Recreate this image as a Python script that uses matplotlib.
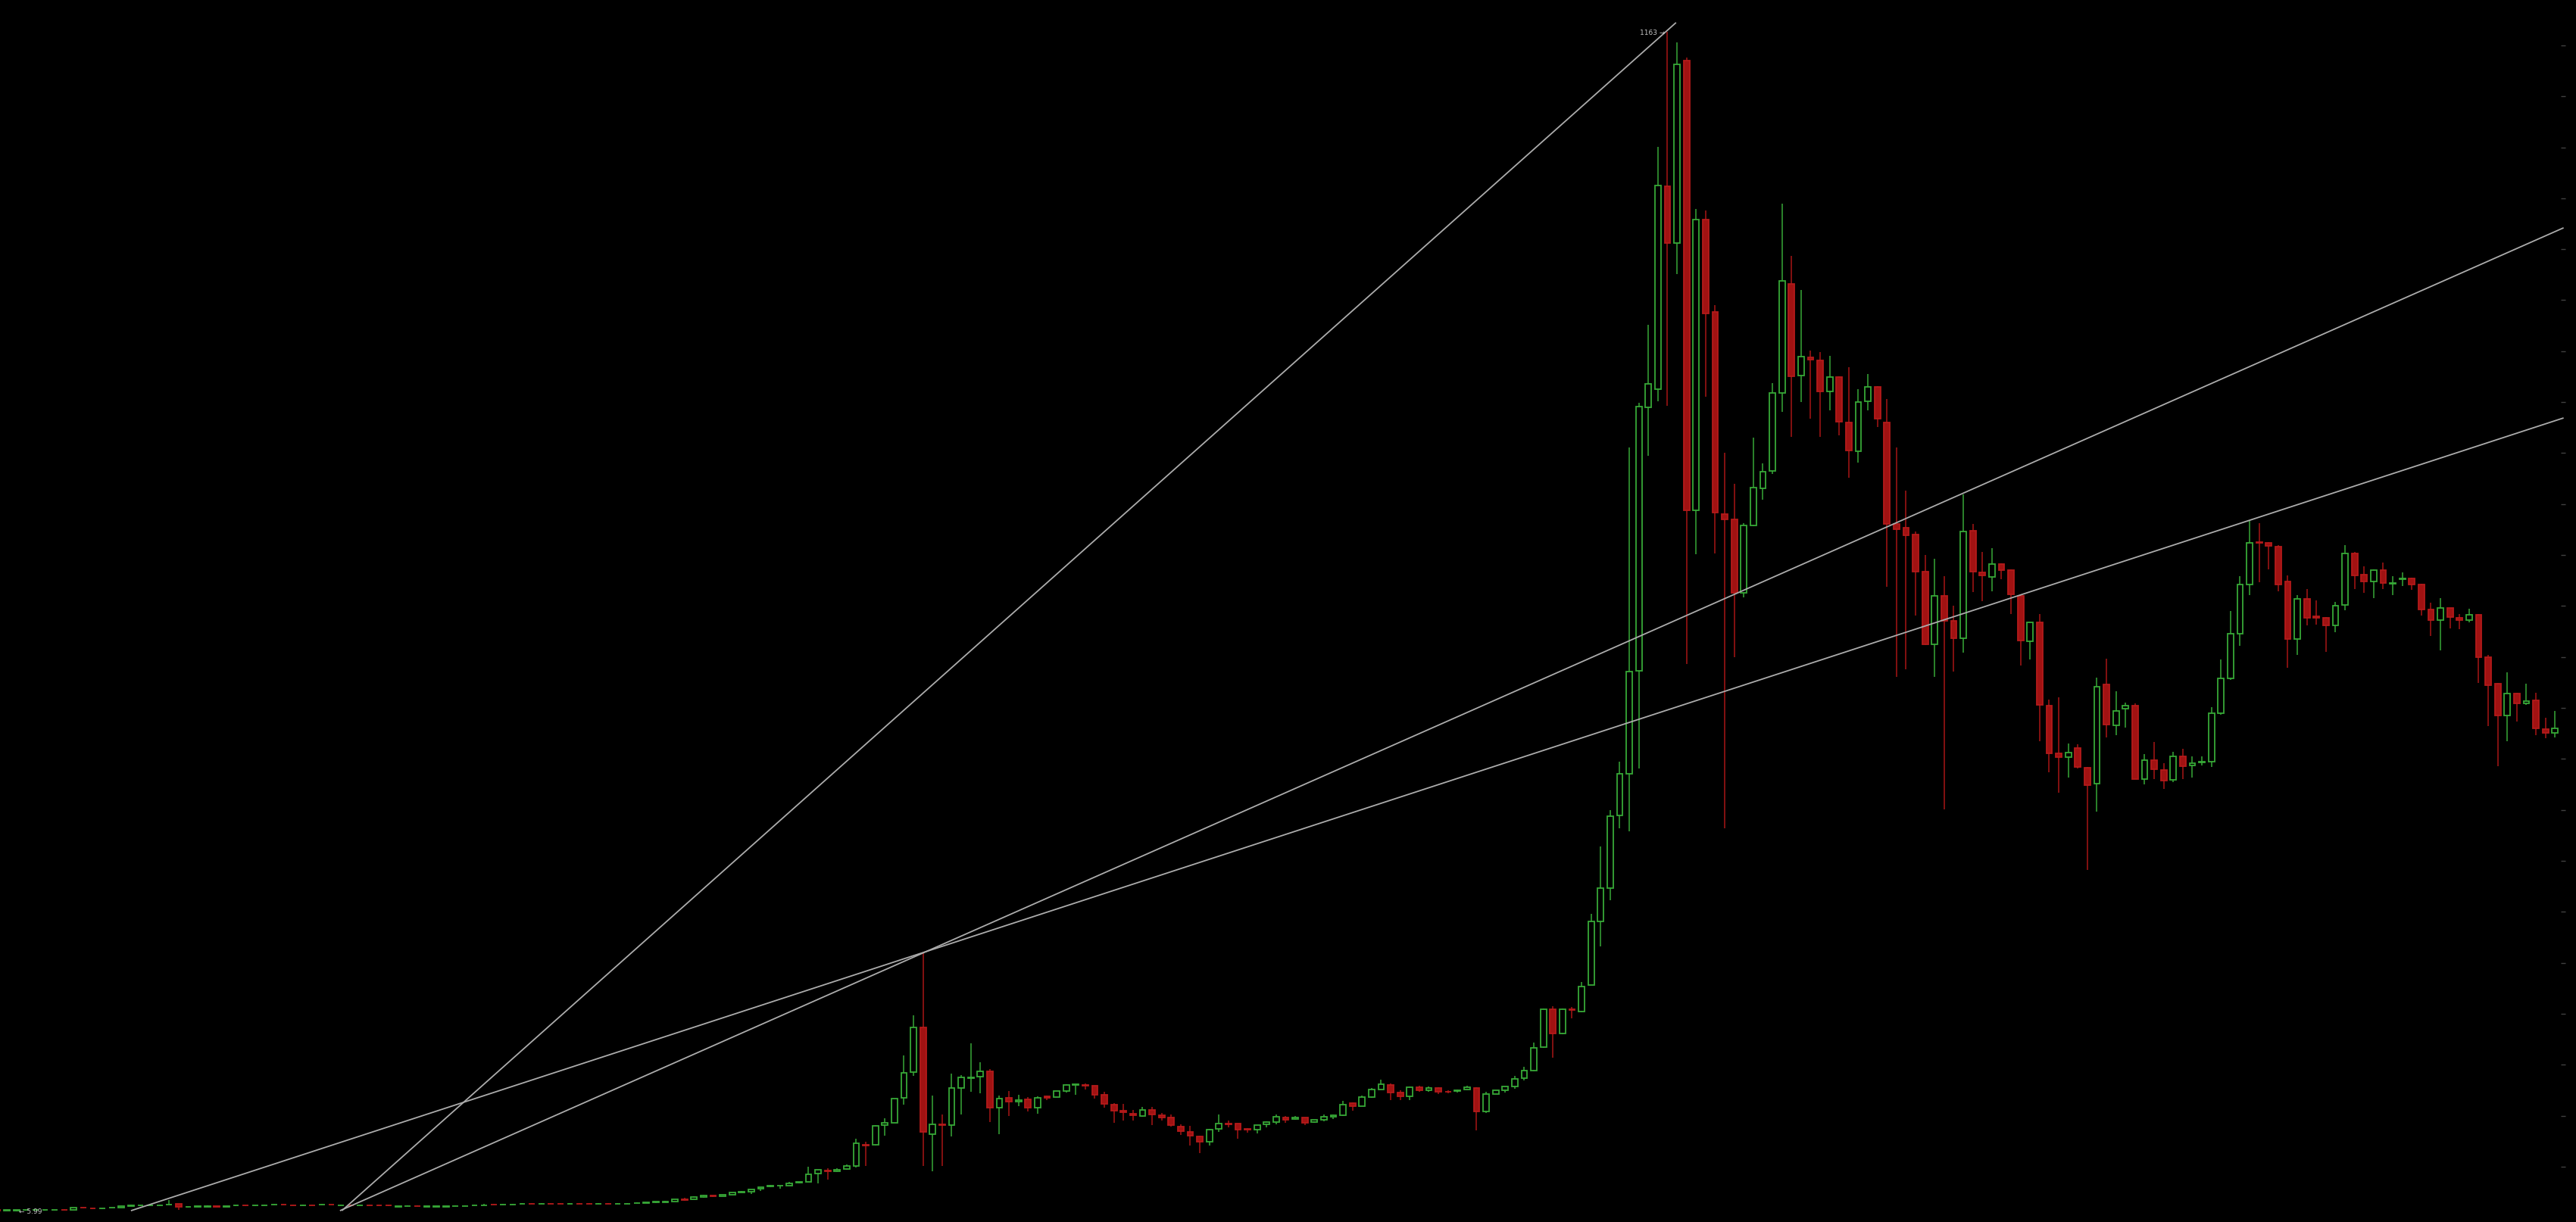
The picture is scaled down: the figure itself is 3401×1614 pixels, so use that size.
import numpy as np
import matplotlib
matplotlib.use("Agg")
import matplotlib.pyplot as plt

# ---- data (price, one candle per period; first candle partly off-screen) ----
opens = [
    7.6, 7.2, 7.3, 7.4, 7.5, 7.4, 7.5, 8.0, 7.9, 9.8,
    9.0, 8.8, 9.8, 10.1, 11.6, 11.8, 12.0, 12.3, 12.9, 13.4,
    10.3, 11.0, 11.0, 11.2, 11.0, 11.8, 12.0, 11.8, 12.3, 13.0,
    13.2, 12.5, 12.3, 12.5, 13.0, 13.0, 12.3, 12.5, 12.3, 12.5,
    12.5, 12.0, 11.0, 11.5, 11.7, 11.0, 11.0, 11.0, 11.5, 11.5,
    12.3, 12.3, 13.2, 13.0, 13.0, 13.7, 13.9, 13.7, 13.9, 13.9,
    13.7, 13.9, 13.9, 13.7, 13.9, 13.7, 13.7, 14.4, 14.5, 14.8,
    15.4, 16.1, 17.9, 18.0, 20.3, 21.5, 20.8, 22.7, 24.7, 25.7,
    28.2, 30.4, 31.2, 31.7, 34.2, 35.0, 43.1, 46.3, 45.3, 47.5,
    51.0, 71.8, 71.3, 90.6, 93.1, 117.3, 142.6, 186.4, 81.7, 91.8,
    91.1, 127.2, 136.9, 138.1, 143.6, 107.7, 117.3, 113.9, 115.9, 107.7,
    118.8, 118.6, 124.5, 130.2, 130.2, 129.2, 120.5, 110.7, 104.9, 102.0,
    99.5, 105.5, 100.7, 98.0, 89.1, 84.1, 79.9, 74.7, 86.9, 92.3,
    92.1, 86.8, 86.2, 91.4, 93.6, 98.0, 96.6, 98.0, 93.6, 96.3,
    99.2, 100.3, 112.1, 109.6, 118.5, 125.7, 130.0, 122.5, 119.1, 128.2,
    125.2, 127.5, 123.4, 124.0, 126.0, 127.5, 104.4, 121.5, 125.2, 128.5,
    136.7, 144.1, 167.1, 204.5, 180.8, 204.2, 202.2, 228.3, 291.0, 323.2,
    394.3, 435.6, 536.6, 795.1, 812.7, 1011.6, 955.8, 1134.9, 693.9, 979.1,
    888.2, 690.5, 685.1, 613.2, 679.4, 715.8, 732.4, 809.0, 915.8, 825.9,
    843.8, 841.1, 810.6, 824.9, 780.1, 752.0, 800.7, 815.0, 780.1, 680.8,
    676.8, 670.3, 633.7, 562.3, 610.1, 585.3, 568.2, 673.7, 632.9, 628.9,
    640.9, 634.9, 610.0, 565.3, 583.9, 502.6, 455.2, 451.9, 460.5, 441.6,
    425.7, 523.2, 483.0, 499.3, 502.6, 430.6, 448.9, 438.9, 429.7, 452.9,
    443.6, 446.9, 447.2, 495.0, 529.1, 573.2, 621.3, 662.4, 661.8, 658.4,
    624.0, 567.3, 606.7, 590.1, 588.5, 580.9, 600.8, 651.2, 630.9, 624.3,
    634.9, 622.0, 626.6, 626.9, 621.0, 596.4, 586.5, 597.8, 588.8, 586.5,
    591.1, 550.0, 524.2, 493.0, 514.5, 504.6, 507.6, 479.4, 475.4,
]
highs = [
    7.7, 7.6, 7.6, 7.7, 7.7, 7.7, 7.8, 8.2, 9.8, 10.1,
    9.1, 9.1, 10.1, 11.2, 12.8, 12.2, 13.0, 12.6, 17.3, 13.8,
    10.6, 11.3, 12.0, 11.3, 11.3, 12.1, 12.1, 12.1, 12.6, 13.3,
    13.3, 12.6, 13.1, 12.6, 13.8, 13.1, 12.6, 12.6, 12.6, 12.6,
    12.6, 12.3, 11.3, 11.8, 11.8, 11.3, 11.3, 11.3, 11.8, 12.4,
    12.6, 13.4, 13.3, 13.3, 13.3, 14.0, 14.0, 14.0, 14.4, 14.0,
    14.0, 14.0, 14.0, 14.0, 14.0, 14.0, 14.0, 14.8, 14.9, 16.0,
    16.6, 17.9, 19.5, 21.0, 22.3, 21.6, 22.6, 24.6, 26.5, 28.0,
    30.2, 32.2, 31.6, 35.4, 35.2, 50.0, 47.2, 48.5, 48.5, 52.0,
    77.5, 74.7, 90.6, 97.5, 117.0, 159.2, 198.5, 259.4, 119.6, 101.5,
    141.1, 139.8, 171.0, 152.5, 145.6, 119.6, 124.3, 120.3, 118.3, 119.1,
    119.6, 124.5, 130.7, 131.2, 131.4, 129.5, 123.3, 112.6, 111.6, 105.5,
    108.7, 108.4, 102.7, 101.0, 91.8, 89.9, 80.5, 87.3, 101.0, 95.1,
    92.5, 88.1, 91.0, 94.8, 101.5, 99.5, 99.5, 98.4, 96.2, 101.2,
    101.2, 114.8, 113.3, 119.6, 127.0, 135.4, 131.5, 125.0, 128.5, 129.5,
    128.7, 127.8, 125.0, 125.5, 129.5, 128.0, 123.3, 125.0, 128.8, 139.1,
    147.8, 171.7, 205.0, 207.7, 205.0, 206.8, 231.4, 297.9, 364.4, 399.6,
    447.1, 755.3, 799.7, 875.5, 1050.6, 1163.0, 1153.1, 1138.2, 989.6, 988.0,
    895.1, 750.0, 719.8, 681.4, 765.2, 739.9, 818.9, 994.6, 943.6, 910.1,
    850.4, 848.8, 845.1, 825.5, 834.5, 812.7, 827.9, 815.5, 803.0, 755.5,
    713.2, 672.9, 650.2, 646.4, 629.0, 600.4, 709.8, 680.3, 652.8, 657.1,
    641.9, 636.2, 611.4, 584.8, 592.1, 508.6, 510.2, 465.5, 464.5, 442.2,
    529.5, 548.4, 516.2, 505.3, 504.3, 454.5, 466.5, 445.6, 457.2, 459.8,
    452.9, 452.2, 500.9, 547.7, 595.4, 629.6, 683.3, 681.0, 662.4, 659.4,
    630.3, 610.4, 616.3, 605.4, 589.1, 604.1, 659.4, 652.8, 638.9, 636.2,
    642.9, 629.6, 632.9, 628.0, 621.6, 603.1, 607.4, 598.4, 592.5, 597.1,
    591.8, 551.7, 524.8, 534.8, 515.2, 523.5, 515.2, 490.3, 497.0,
]
lows = [
    7.2, 7.1, 5.99, 7.3, 7.4, 7.3, 7.4, 7.7, 7.8, 9.3,
    8.7, 8.7, 9.7, 9.6, 11.5, 11.7, 11.9, 12.2, 12.8, 7.9,
    10.2, 10.9, 10.9, 10.9, 10.4, 11.7, 11.7, 11.7, 12.2, 12.9,
    12.9, 12.2, 12.2, 12.2, 12.9, 12.7, 12.2, 12.2, 12.2, 12.2,
    12.2, 11.7, 10.4, 11.4, 11.4, 10.9, 10.9, 10.9, 11.4, 11.4,
    12.2, 12.2, 12.9, 12.9, 12.9, 13.6, 13.6, 13.6, 13.6, 13.6,
    13.6, 13.6, 13.6, 13.6, 13.6, 13.6, 13.6, 14.3, 14.4, 14.7,
    15.3, 16.0, 16.3, 17.9, 19.5, 20.6, 20.7, 22.6, 24.6, 23.5,
    26.2, 30.2, 28.4, 31.5, 34.0, 34.8, 33.4, 37.1, 45.0, 47.3,
    49.0, 51.0, 70.6, 80.7, 92.8, 110.9, 139.3, 51.0, 45.7, 51.0,
    79.7, 101.5, 123.8, 122.0, 93.6, 82.2, 99.7, 109.6, 104.5, 102.2,
    115.1, 118.3, 123.0, 120.8, 125.7, 117.1, 107.7, 93.1, 95.5, 95.5,
    99.0, 91.1, 95.3, 89.1, 81.2, 71.0, 63.6, 71.0, 84.1, 88.6,
    77.5, 83.4, 82.9, 88.4, 91.4, 93.3, 96.4, 91.1, 93.3, 94.8,
    97.0, 99.5, 105.2, 109.3, 117.6, 125.5, 115.6, 115.6, 115.6, 123.7,
    123.7, 121.5, 121.8, 122.5, 125.2, 85.6, 102.9, 121.1, 123.0, 126.7,
    134.9, 143.5, 166.5, 157.2, 180.3, 195.4, 201.8, 228.0, 265.8, 311.6,
    382.0, 379.0, 440.9, 747.7, 801.2, 796.7, 925.9, 543.0, 651.0, 805.0,
    651.6, 382.1, 550.1, 608.4, 678.5, 704.2, 729.7, 790.8, 765.6, 800.0,
    784.1, 765.6, 791.7, 767.6, 725.8, 740.7, 791.7, 775.8, 618.9, 530.2,
    537.8, 590.4, 561.5, 530.2, 400.8, 535.6, 554.1, 614.0, 604.7, 614.7,
    626.3, 591.8, 541.7, 547.7, 467.1, 436.6, 416.7, 431.6, 440.6, 341.0,
    398.1, 471.1, 473.7, 481.0, 430.0, 425.0, 430.6, 420.7, 427.3, 430.6,
    431.6, 443.9, 441.9, 493.6, 527.8, 560.6, 611.0, 623.0, 636.2, 614.7,
    539.1, 552.4, 580.9, 581.5, 555.0, 574.2, 595.8, 616.3, 613.0, 608.1,
    617.0, 610.7, 619.7, 615.7, 590.5, 570.9, 556.3, 578.2, 577.2, 584.2,
    524.5, 482.0, 442.9, 467.1, 487.0, 502.9, 473.7, 470.4, 471.4,
]
closes = [
    7.3, 7.5, 7.5, 7.6, 7.6, 7.6, 7.7, 7.8, 9.7, 9.6,
    8.8, 9.0, 10.0, 11.1, 11.9, 12.1, 12.2, 12.5, 13.2, 10.8,
    10.5, 11.2, 11.2, 11.0, 11.2, 12.0, 11.8, 12.0, 12.5, 13.2,
    13.0, 12.3, 12.5, 12.3, 13.2, 12.8, 12.5, 12.3, 12.5, 12.3,
    12.3, 11.8, 11.2, 11.7, 11.5, 11.2, 11.2, 11.2, 11.7, 11.7,
    12.5, 12.5, 13.0, 13.2, 13.2, 13.9, 13.7, 13.9, 13.7, 13.7,
    13.9, 13.7, 13.7, 13.9, 13.7, 13.9, 13.9, 14.7, 14.8, 15.8,
    15.7, 17.8, 17.6, 20.0, 21.5, 20.8, 22.5, 24.5, 25.7, 27.9,
    29.9, 31.2, 31.4, 33.9, 34.9, 42.6, 46.8, 45.5, 47.2, 50.7,
    73.0, 70.8, 90.1, 92.8, 116.6, 142.1, 186.4, 84.4, 91.6, 91.1,
    127.0, 137.6, 137.6, 143.3, 107.7, 116.6, 113.9, 115.3, 107.7, 117.3,
    117.3, 124.0, 130.0, 130.9, 129.5, 120.8, 111.4, 105.2, 103.2, 100.5,
    105.5, 101.0, 98.5, 91.1, 85.1, 80.2, 74.7, 86.6, 92.1, 91.9,
    86.6, 86.4, 90.6, 93.6, 98.8, 96.3, 98.0, 93.1, 95.8, 98.8,
    100.3, 110.7, 109.6, 118.1, 125.5, 130.7, 123.0, 119.1, 128.2, 125.2,
    127.5, 123.7, 123.2, 125.2, 127.7, 104.4, 121.5, 124.8, 128.5, 135.9,
    144.1, 166.3, 204.5, 180.8, 204.5, 203.6, 226.7, 291.0, 323.2, 393.6,
    435.6, 535.8, 795.9, 818.1, 1012.4, 955.8, 1131.7, 693.9, 979.1, 886.9,
    691.6, 685.1, 613.2, 678.8, 716.2, 731.7, 809.3, 919.0, 825.2, 844.4,
    841.8, 810.6, 824.9, 780.8, 752.3, 800.0, 815.0, 783.5, 680.8, 675.7,
    669.5, 633.9, 562.3, 610.1, 585.6, 568.2, 672.9, 633.6, 630.3, 640.9,
    635.6, 611.7, 565.9, 583.9, 502.9, 455.8, 451.5, 456.5, 442.2, 424.0,
    521.2, 483.7, 497.0, 502.6, 430.6, 448.9, 439.9, 429.0, 452.2, 443.2,
    446.2, 447.6, 494.6, 528.8, 572.6, 621.0, 661.8, 661.8, 658.8, 621.3,
    567.3, 607.1, 588.5, 588.5, 580.9, 600.4, 651.2, 630.3, 624.3, 634.9,
    622.3, 622.6, 627.3, 621.3, 596.4, 586.5, 597.8, 589.1, 586.5, 591.1,
    550.0, 522.2, 493.0, 514.5, 504.6, 506.6, 479.7, 475.4, 479.7,
]

# trend lines: (start index, start price, end index, end price)
trend_lines = [
    (35.1, 6.9, 174.9, 1172.3),
    (34.9, 6.9, 267.9, 971.0),
    (13.0, 6.9, 267.9, 784.5),
]
price_ticks = [50, 100, 150, 200, 250, 300, 350, 400, 450, 500, 550, 600,
               650, 700, 750, 800, 850, 900, 950, 1000, 1050, 1100, 1150]
high_label = (174, 1163.0, "1163 \u2192")
low_label = (1, 5.99, "\u2190 5.99")

# ---- drawing ----
o = np.array(opens); h = np.array(highs); l = np.array(lows); c = np.array(closes)
x = np.arange(len(o)) - 1
up = c >= o

GREEN = "#37a837"
RED_FILL = "#a11212"
RED_EDGE = "#b41a1a"
RED_WICK = "#a81616"

fig = plt.figure(figsize=(34.01, 16.15), dpi=100)
fig.patch.set_facecolor("black")
ax = fig.add_axes([0, 0, 1, 1])
ax.set_facecolor("black")

top = np.maximum(o, c)
bot = np.minimum(o, c)
wick_cols = np.where(up, GREEN, RED_WICK)
ax.vlines(x, top, h, colors=wick_cols, lw=1.1, zorder=2)
ax.vlines(x, l, bot, colors=wick_cols, lw=1.1, zorder=2)

face = np.where(up, "black", RED_FILL)
edge = np.where(up, GREEN, RED_EDGE)
ax.bar(x, top - bot, bottom=bot, width=0.62, color=list(face),
       edgecolor=list(edge), linewidth=1.3, zorder=3)

for x0, p0, x1, p1 in trend_lines:
    ax.plot([x0, x1], [p0, p1], color="#acacac", lw=1.3, zorder=4,
            solid_capstyle="butt")

ax.hlines(price_ticks, 0.9941, 0.9960, transform=ax.get_yaxis_transform(),
          colors="#404040", lw=1.0)

ax.annotate(high_label[2], xy=(high_label[0], high_label[1]), xytext=(-3, 0),
            textcoords="offset pixels", ha="right", va="center",
            fontsize=6.5, color="#c4c4c4", zorder=5)
ax.annotate(low_label[2], xy=(low_label[0], low_label[1]), xytext=(3, 1),
            textcoords="offset pixels", ha="left", va="center",
            fontsize=6.5, color="#c4c4c4", zorder=5)

ax.set_xlim(-0.722, 269.2)
ax.set_ylim(-4.2, 1195.2)
ax.axis("off")

fig.savefig("out.png", dpi=100, facecolor="black")
